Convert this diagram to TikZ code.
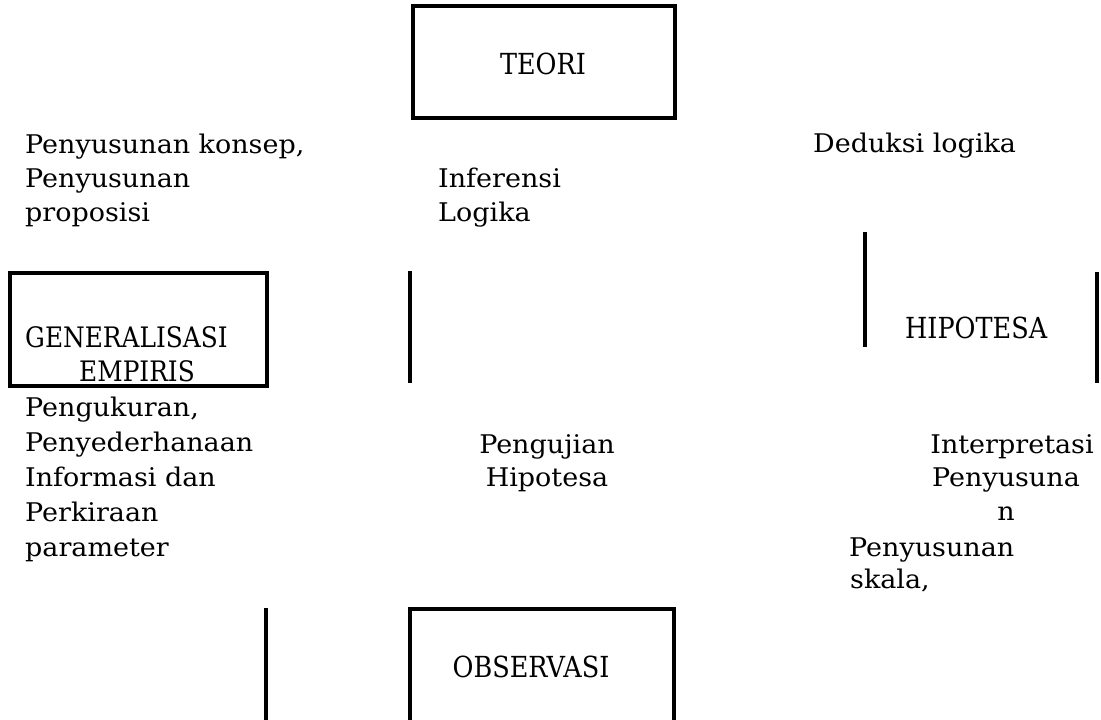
\documentclass[tikz,border=0pt]{standalone}
\usepackage{fontspec}
\setmainfont[FakeStretch=1.05]{DejaVu Serif}
\newfontfamily\capsfont[FakeStretch=0.88]{DejaVu Serif}
\begin{document}
\begin{tikzpicture}[x=1pt,y=-1pt,
  lbl/.style={inner sep=0pt,anchor=base west,font=\fontsize{25.7}{33}\selectfont},
  clbl/.style={inner sep=0pt,anchor=base,font=\fontsize{25.7}{33}\selectfont},
  caps/.style={inner sep=0pt,anchor=base,font=\capsfont\fontsize{29}{33}\selectfont},
  edge/.style={line width=3.3pt}]
\useasboundingbox (0,0) rectangle (1101,720);
% boxes
\draw[edge] (413,6) rectangle (675,118);
\draw[edge] (10,273) rectangle (267,386);
\draw[edge] (410,720) -- (410,609) -- (674,609) -- (674,720);
% stray lines
\coordinate (m1) at (410,271); \coordinate (m2) at (410,383);
\draw[edge] (m1) -- (m2);
\coordinate (h1) at (865,232); \coordinate (h2) at (865,347);
\draw[edge] (h1) -- (h2);
\coordinate (h3) at (1097,272); \coordinate (h4) at (1097,383);
\draw[edge] (h3) -- (h4);
\coordinate (o1) at (266,608); \coordinate (o2) at (266,720);
\draw[edge] (o1) -- (o2);
% texts
\node[caps] (teori) at (543,74) {TEORI};
\node[lbl] (konsep1) at (25,153) {Penyusunan konsep,};
\node[lbl] (konsep2) at (25,187) {Penyusunan};
\node[lbl] (konsep3) at (25,221) {proposisi};
\node[lbl] (inf1) at (438,187) {Inferensi};
\node[lbl] (inf2) at (438,221) {Logika};
\node[lbl] (ded) at (813,152) {Deduksi logika};
\node[caps,anchor=base west,font=\capsfont\fontsize{28.2}{33}\selectfont] (gen1) at (25,347) {GENERALISASI};
\node[caps,font=\capsfont\fontsize{28.2}{33}\selectfont] (gen2) at (137,381) {EMPIRIS};
\node[caps,anchor=base west] (hip) at (905,338) {HIPOTESA};
\node[lbl] (uk1) at (25,416) {Pengukuran,};
\node[lbl] (uk2) at (25,451) {Penyederhanaan};
\node[lbl] (uk3) at (25,486) {Informasi dan};
\node[lbl] (uk4) at (25,521) {Perkiraan};
\node[lbl] (uk5) at (25,556) {parameter};
\node[clbl] (uji1) at (547,453) {Pengujian};
\node[clbl] (uji2) at (547,486) {Hipotesa};
\node[clbl] (int1) at (1012,453) {Interpretasi};
\node[clbl] (int2) at (1006,486) {Penyusuna};
\node[clbl] (int3) at (1006,520) {n};
\node[lbl] (sk1) at (849,556) {Penyusunan};
\node[lbl] (sk2) at (850,588) {skala,};
\node[caps] (obs) at (531,677) {OBSERVASI};
\end{tikzpicture}
\end{document}
